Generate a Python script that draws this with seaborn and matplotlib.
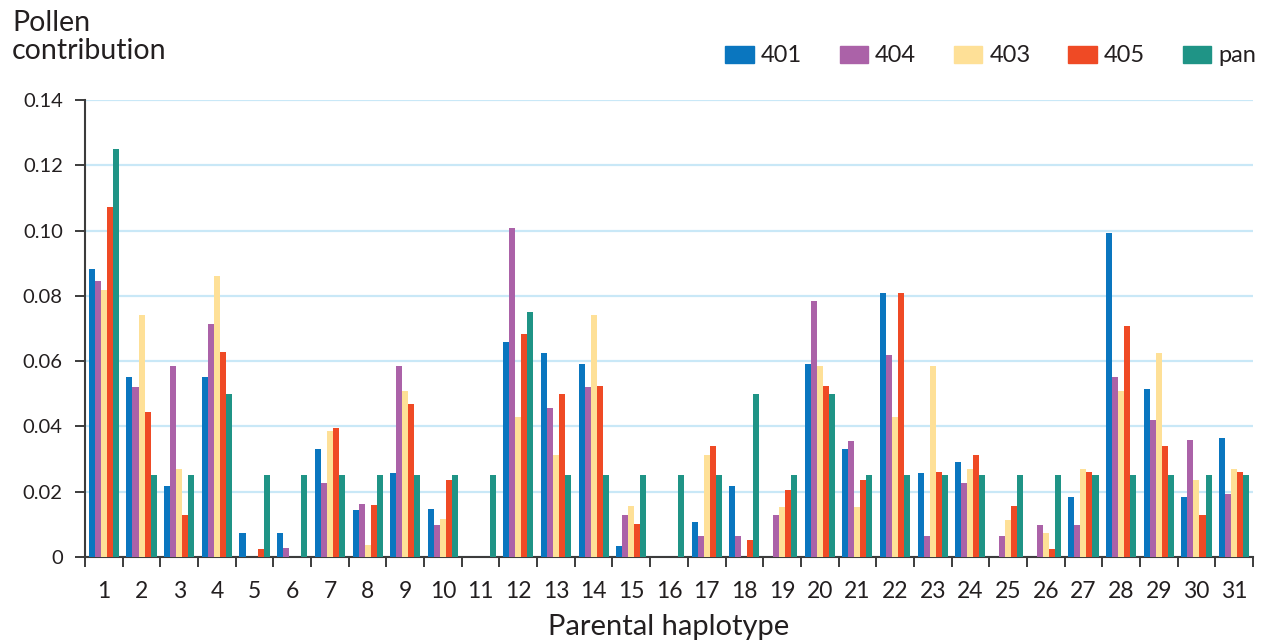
import matplotlib
matplotlib.use("Agg")
import matplotlib.pyplot as plt
import matplotlib.ticker as mticker
import numpy as np
import pandas as pd
import seaborn as sns

# ---------------------------------------------------------------------------
# Data
# ---------------------------------------------------------------------------
haplotypes = [str(i) for i in range(1, 32)]
series_names = ["401", "404", "403", "405", "pan"]

v401 = [0.0882, 0.0551, 0.0217, 0.0551, 0.0073, 0.0073, 0.0331, 0.0144, 0.0257, 0.0147,
        0.0, 0.0658, 0.0624, 0.0591, 0.0034, 0.0, 0.0107, 0.0217, 0.0, 0.0591,
        0.0331, 0.0808, 0.0257, 0.0291, 0.0, 0.0, 0.0184, 0.0992, 0.0514, 0.0184, 0.0364]
v404 = [0.0845, 0.0520, 0.0585, 0.0713, 0.0, 0.0028, 0.0227, 0.0162, 0.0585, 0.0098,
        0.0, 0.1007, 0.0456, 0.0520, 0.0129, 0.0, 0.0064, 0.0064, 0.0129, 0.0784,
        0.0355, 0.0618, 0.0064, 0.0227, 0.0064, 0.0098, 0.0098, 0.0551, 0.0419, 0.0358, 0.0193]
v403 = [0.0817, 0.0741, 0.0269, 0.0860, 0.0, 0.0, 0.0386, 0.0037, 0.0508, 0.0116,
        0.0, 0.0429, 0.0312, 0.0741, 0.0156, 0.0, 0.0312, 0.0, 0.0153, 0.0585,
        0.0153, 0.0429, 0.0585, 0.0269, 0.0113, 0.0073, 0.0269, 0.0508, 0.0624, 0.0236, 0.0269]
v405 = [0.1071, 0.0444, 0.0129, 0.0628, 0.0024, 0.0, 0.0395, 0.0159, 0.0468, 0.0236,
        0.0, 0.0683, 0.0499, 0.0523, 0.0101, 0.0, 0.0340, 0.0052, 0.0205, 0.0523,
        0.0236, 0.0808, 0.0260, 0.0312, 0.0156, 0.0024, 0.0260, 0.0707, 0.0340, 0.0129, 0.0260]
vpan = [0.125, 0.025, 0.025, 0.050, 0.025, 0.025, 0.025, 0.025, 0.025, 0.025,
        0.025, 0.075, 0.025, 0.025, 0.025, 0.025, 0.025, 0.050, 0.025, 0.050,
        0.025, 0.025, 0.025, 0.025, 0.025, 0.025, 0.025, 0.025, 0.025, 0.025, 0.025]

colors = ["#0a76bf", "#ab62a8", "#fee097", "#ef4a25", "#1f9486"]
TEXT = "#231f20"
GRID = "#c9e8f7"
AXIS = "#3c3c3c"

df = pd.DataFrame({"haplotype": haplotypes, "401": v401, "404": v404,
                   "403": v403, "405": v405, "pan": vpan})
long = df.melt(id_vars="haplotype", var_name="line", value_name="contribution")

# ---------------------------------------------------------------------------
# Plot
# ---------------------------------------------------------------------------
sns.set_theme(style="white")
plt.rcParams["font.family"] = ["Lato", "DejaVu Sans"]

fig = plt.figure(figsize=(12.65, 6.41), dpi=100)
ax = fig.add_axes([85 / 1265, 1 - 557 / 641, (1253 - 85) / 1265, (557 - 100) / 641])

sns.barplot(data=long, x="haplotype", y="contribution", hue="line",
            hue_order=series_names, palette=colors, order=haplotypes,
            width=0.8, gap=0, saturation=1, errorbar=None, legend=False,
            linewidth=0, zorder=3, ax=ax)

ax.set_xlim(-0.5, len(haplotypes) - 0.5)
ax.set_ylim(0, 0.14)

ax.set_yticks(np.arange(0, 0.141, 0.02))
ax.yaxis.set_major_formatter(mticker.FuncFormatter(lambda v, p: "0" if v == 0 else f"{v:.2f}"))
ax.yaxis.grid(True, color=GRID, linewidth=1.6, zorder=0)
ax.set_axisbelow(True)

ax.set_xticks(range(len(haplotypes)))
ax.set_xticklabels(haplotypes)
ax.set_xticks(np.arange(-0.5, len(haplotypes), 1.0), minor=True)
ax.tick_params(axis="x", which="major", length=0, pad=17, labelsize=16.5, labelcolor=TEXT)
ax.tick_params(axis="x", which="minor", length=7, width=1.4, color=AXIS, direction="out", bottom=True)
ax.tick_params(axis="y", length=7, width=1.4, color=AXIS, direction="out", left=True,
               labelsize=14.5, labelcolor=TEXT, pad=9)

for side in ["top", "right"]:
    ax.spines[side].set_visible(False)
for side in ["left", "bottom"]:
    ax.spines[side].set_color(AXIS)
    ax.spines[side].set_linewidth(1.5)

ax.set_xlabel("Parental haplotype", fontsize=21, color=TEXT, labelpad=9)
ax.set_ylabel("")
fig.text(12 / 1265, 1 - 10 / 641, "Pollen\ncontribution", fontsize=20.5, color=TEXT,
         ha="left", va="top", linespacing=1.1)

handles = [plt.Rectangle((0, 0), 1, 1, color=c) for c in colors]
fig.legend(handles, series_names, loc="center right", bbox_to_anchor=(1256 / 1265, 1 - 56 / 641),
           ncol=5, frameon=False, fontsize=17, handlelength=1.2, handleheight=0.75,
           handletextpad=0.3, columnspacing=1.6, labelcolor=TEXT, borderpad=0, borderaxespad=0)

fig.savefig("out.png", dpi=100)
